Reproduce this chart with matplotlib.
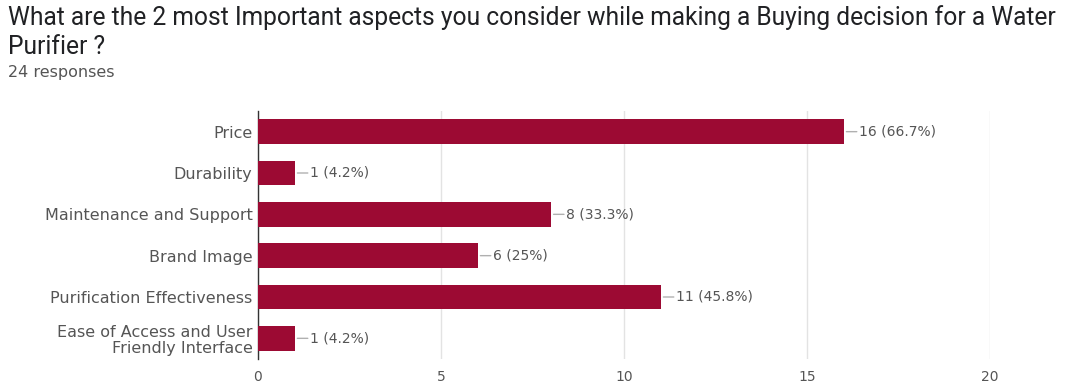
import matplotlib
matplotlib.use("Agg")
import matplotlib.pyplot as plt

categories = ["Price", "Durability", "Maintenance and Support", "Brand Image",
              "Purification Effectiveness", "Ease of Access and User\nFriendly Interface"]
counts = [16, 1, 8, 6, 11, 1]
percents = ["66.7%", "4.2%", "33.3%", "25%", "45.8%", "4.2%"]
xticks = [0, 5, 10, 15, 20]

plt.rcParams['font.family'] = ['DejaVu Sans']

fig = plt.figure(figsize=(10.67, 3.85), dpi=100)
ax = fig.add_axes([258/1067, 1-359/385, (990-258)/1067, (359-111)/385])

bar_color = "#9c0a33"
ypos = list(range(len(categories)))
ax.barh(ypos, counts, height=0.6, color=bar_color, zorder=3)

for y, c, p in zip(ypos, counts, percents):
    ax.annotate("", xy=(c, y), xytext=(9.5, 0), textcoords="offset points",
                arrowprops=dict(arrowstyle="-", color="#b0b0b0", lw=1,
                                shrinkA=0, shrinkB=2), zorder=4)
    ax.annotate(f"{c} ({p})", xy=(c, y), xytext=(11, 0), textcoords="offset points",
                va="center", ha="left", fontsize=10, color="#555555", zorder=4)

ax.set_yticks(ypos)
ax.set_yticklabels(categories, fontsize=11.5, color="#555555", linespacing=1.1)
ax.set_ylim(5.5, -0.5)
ax.set_xlim(0, 20)
ax.set_xticks(xticks)
ax.set_xticklabels([str(t) for t in xticks], fontsize=10, color="#555555")
ax.tick_params(axis='both', length=0)
ax.tick_params(axis='y', pad=4)
ax.tick_params(axis='x', pad=8)
ax.grid(axis='x', color="#e3e3e3", lw=1, zorder=0)
for s in ["top", "right", "bottom"]:
    ax.spines[s].set_visible(False)
ax.spines["left"].set_color("#333333")
ax.spines["left"].set_linewidth(1)

title_font = ['Roboto', 'DejaVu Sans']
fig.text(8/1067, 1-18/385, "What are the 2 most Important aspects you consider while making a Buying decision for a Water",
         fontsize=17.7, color="#202124", va="center", ha="left", family=title_font)
fig.text(8/1067, 1-47/385, "Purifier ?", fontsize=17.7, color="#202124", va="center", ha="left",
         family=title_font)
fig.text(8/1067, 1-73/385, "24 responses", fontsize=11.5, color="#555555", va="center", ha="left")

fig.savefig("out.png", dpi=100, facecolor="white")
